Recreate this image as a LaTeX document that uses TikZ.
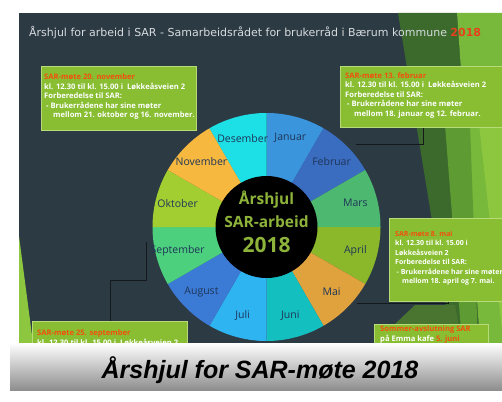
\documentclass[tikz,border=0pt]{standalone}
\usepackage{fontspec}
\setmainfont{Open Sans}
\newfontfamily\titlefont{DejaVu Sans}
\newfontfamily\bannerfont{Liberation Sans}
\definecolor{slate}{HTML}{2C3A44}
\definecolor{titlegray}{HTML}{D6DBDE}
\definecolor{redyear}{HTML}{E8401C}
\definecolor{orng}{HTML}{F2500E}
\definecolor{boxgreen}{HTML}{89BE33}
\definecolor{boxedge}{HTML}{B8DA78}
\definecolor{gDark}{HTML}{3B6A2C}
\definecolor{gMid}{HTML}{5E9B33}
\definecolor{gLight}{HTML}{78B83A}
\definecolor{gBright}{HTML}{8DC63F}
\definecolor{gOlive}{HTML}{4A7530}
\definecolor{connc}{HTML}{15191C}
\definecolor{mtext}{HTML}{1F3558}
\definecolor{hubtext}{HTML}{8DB33A}
\definecolor{cJan}{HTML}{3A95DC}
\definecolor{cFeb}{HTML}{3A6CC0}
\definecolor{cMar}{HTML}{4DB870}
\definecolor{cApr}{HTML}{8AB82A}
\definecolor{cMai}{HTML}{DFA23D}
\definecolor{cJun}{HTML}{14BFC0}
\definecolor{cJul}{HTML}{2FB4F2}
\definecolor{cAug}{HTML}{3B7BD6}
\definecolor{cSep}{HTML}{4CD07D}
\definecolor{cOkt}{HTML}{A2CE31}
\definecolor{cNov}{HTML}{F6B83F}
\definecolor{cDes}{HTML}{1CE0E6}
\definecolor{bannergray}{HTML}{8E8E8E}
\tikzset{
  infobox/.style={draw=boxedge, line width=0.8pt, fill=boxgreen, anchor=north west, inner sep=0pt},
  boxtext/.style={anchor=north west, inner sep=0pt, align=left, text=white, font=\bfseries\fontsize{7.6}{9.6}\selectfont},
  mlabel/.style={text=mtext, font=\fontsize{10.5}{12}\selectfont, inner sep=0pt},
  hubtxt/.style={text=hubtext, font=\bfseries, inner sep=0pt},
  conn/.style={draw=connc, line width=0.8pt},
}
\begin{document}
\begin{tikzpicture}[x=1pt,y=-1pt]
\useasboundingbox (0,0) rectangle (502,401);
\fill[white] (0,0) rectangle (502,401);
\begin{scope}
\clip (19,13) rectangle (502,343);
\fill[slate] (19,13) rectangle (502,343);
% green facets
\fill[gDark] (398,13) -- (457,13) -- (480,343) -- (452,343) -- cycle;
\fill[gLight] (457,13) -- (502,13) -- (502,343) -- (480,343) -- cycle;
\fill[gMid] (445,125) -- (470,125) -- (478,343) -- (462,343) -- cycle;
\fill[gBright] (478,115) -- (502,80) -- (502,330) -- cycle;
\fill[gOlive] (375,343) -- (415,305) -- (455,305) -- (462,343) -- cycle;
\fill[gBright] (19,236) -- (33,343) -- (19,343) -- cycle;
% title
\node[anchor=west, inner sep=0pt, text=titlegray, font=\titlefont\fontsize{11}{13}\selectfont] (title) at (29,33)
  {Årshjul for arbeid i SAR - Samarbeidsrådet for brukerråd i Bærum kommune \textcolor{redyear}{\bfseries 2018}};
% wheel
\begin{scope}[shift={(266.5,227)}, yscale=-1]
\foreach \i/\col in {0/cJan,1/cFeb,2/cMar,3/cApr,4/cMai,5/cJun,6/cJul,7/cAug,8/cSep,9/cOkt,10/cNov,11/cDes}{
  \fill[\col] (0,0) -- ({90-30*\i}:114) arc[start angle={90-30*\i}, end angle={60-30*\i}, radius=114] -- cycle;
}
\foreach \i/\name in {0/Januar,1/Februar,2/Mars,3/April,4/Mai,5/Juni,6/Juli,7/August,8/September,9/Oktober,10/November,11/Desember}{
  \node[mlabel] (m\i) at ({75-30*\i}:92) {\name};
}
\node[circle, fill=black, minimum size=102pt, inner sep=0pt] (hub) at (0,0) {};
\node[hubtxt, font=\bfseries\fontsize{15.5}{17}\selectfont] (hub1) at (0,27) {Årshjul};
\node[hubtxt, font=\bfseries\fontsize{15.5}{17}\selectfont] (hub2) at (0,5) {SAR-arbeid};
\node[hubtxt, font=\bfseries\fontsize{21}{23}\selectfont] (hub3) at (0,-18) {2018};
\end{scope}
% boxes
\node[infobox, minimum width=155pt, minimum height=64pt] (novbox) at (41,66) {};
\node[boxtext] (novtxt) at (44,73.5) {\textcolor{orng}{SAR-møte 20. november}\\kl. 12.30 til kl. 15.00 i~ Løkkeåsveien 2\\Forberedelse til SAR:\\\hspace*{2pt}- Brukerrådene har sine møter\\\hspace*{9pt}mellom 21. oktober og 16. november.};
\node[infobox, minimum width=170pt, minimum height=61pt] (febbox) at (340,66) {};
\node[boxtext] (febtxt) at (345,72) {\textcolor{orng}{SAR-møte 13. februar}\\kl. 12.30 til kl. 15.00 i~ Løkkeåsveien 2\\Forberedelse til SAR:\\\hspace*{2pt}- Brukerrådene har sine møter\\\hspace*{9pt}mellom 18. januar og 12. februar.};
\node[infobox, minimum width=120pt, minimum height=83pt] (maibox) at (389,218) {};
\node[boxtext, font=\bfseries\fontsize{7}{9.4}\selectfont] (maitxt) at (395,231) {\textcolor{orng}{SAR-møte 8. mai}\\kl. 12.30 til kl. 15.00 i\\Løkkeåsveien 2\\Forberedelse til SAR:\\\hspace*{1.5pt}- Brukerrådene har sine møter\\\hspace*{7pt}mellom 18. april og 7. mai.};
\node[infobox, minimum width=155pt, minimum height=40pt] (sepbox) at (32,321) {};
\node[boxtext] (septxt) at (37,329.5) {\textcolor{orng}{SAR-møte 25. september}\\kl. 12.30 til kl. 15.00 i~ Løkkeåsveien 2};
\node[infobox, minimum width=114pt, minimum height=40pt] (sombox) at (374,324) {};
\node[boxtext] (somtxt) at (380,325.5) {\textcolor{orng}{Sommer-avslutning SAR}\\på Emma kafe \textcolor{orng}{5. juni}};
% connectors
\coordinate (sepA) at (146,242);
\coordinate (sepB) at (146,280);
\coordinate (sepC) at (110,280);
\draw[conn] (sepA) -- (sepB) -- (sepC) -- (sepC |- sepbox.north);
\coordinate (febA) at (423,144);
\coordinate (febB) at (356,144);
\draw[conn] (febbox.south -| febA) -- (febA) -- (febB);
\coordinate (maiA) at (448,303);
\coordinate (maiB) at (357,303);
\draw[conn] (maibox.south -| maiA) -- (maiA) -- (maiB);
\end{scope}
% banner
\shade[top color=white, middle color=white!92!bannergray, bottom color=bannergray] (10,343) rectangle (502,390);
\node[inner sep=0pt, font=\bannerfont\bfseries\itshape\fontsize{25}{28}\selectfont] (banner) at (260,370) {Årshjul for SAR-møte 2018};
\end{tikzpicture}
\end{document}
